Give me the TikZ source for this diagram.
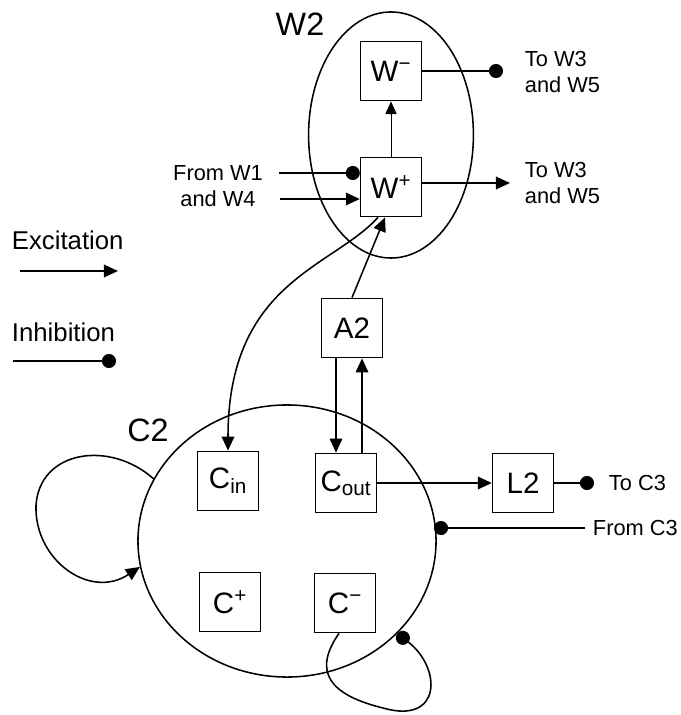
\documentclass[tikz,border=0pt]{standalone}
\usepackage{fontspec}
\setmainfont{Liberation Sans}
\usetikzlibrary{arrows.meta,positioning,calc,shapes.geometric}
\tikzset{
  cbox/.style={draw, line width=1.1pt, minimum width=1.52cm, minimum height=1.48cm, inner sep=0pt, font=\fontsize{21}{24}\selectfont},
  grp/.style={draw, ellipse, line width=1.1pt, inner sep=0pt},
  exc/.style={-{Triangle[length=10pt, width=9pt]}, line width=1.1pt},
  inh/.style={-{Circle[length=10pt]}, line width=1.1pt},
  slab/.style={font=\fontsize{15.5}{18}\selectfont, align=left},
  glab/.style={font=\fontsize{23}{26}\selectfont},
  leg/.style={font=\fontsize{18.3}{21}\selectfont, anchor=west},
}

\begin{document}
\begin{tikzpicture}[x=0.025cm, y=-0.025cm]
\useasboundingbox (0,0) rectangle (680,715);
% groups
\node[grp, minimum width=4.12cm, minimum height=6.15cm] (W2) at (391,135) {};
\node[grp, minimum width=7.45cm, minimum height=6.8cm] (C2) at (287,541) {};
\node[glab] (W2lab) at (300,24) {W2};
\node[glab] (C2lab) at (148,430) {C2};
% boxes
\node[cbox] (Wm) at (391,71) {W\textsuperscript{−}};
\node[cbox] (Wp) at (391,187) {W\textsuperscript{+}};
\node[cbox] (A2) at (352,328) {A2};
\node[cbox] (Cin) at (228,481) {C\textsubscript{in}};
\node[cbox] (Cout) at (346,483) {C\textsubscript{out}};
\node[cbox] (Cp) at (230,602) {C\textsuperscript{+}};
\node[cbox] (Cm) at (345,603) {C\textsuperscript{−}};
\node[cbox] (L2) at (523,483) {L2};
% outside labels
\node[slab, anchor=west] (toWm) at (520,72) {To W3\\and W5};
\node[slab, anchor=west] (toWp) at (520,183) {To W3\\and W5};
\node[slab, align=center] (fromW) at (218,186) {From W1\\and W4};
\node[slab, anchor=west] (toC3) at (604,483) {To C3};
\node[slab, anchor=west] (fromC3) at (588,528) {From C3};
% legend
\node[leg] (exlab) at (7,240) {Excitation};
\node[leg] (inlab) at (7,332) {Inhibition};
\coordinate (ex0) at (20,271);
\coordinate (ex1) at (118,271);
\coordinate (in0) at (13,361);
\coordinate (in1) at (116,361);
\draw[exc] (ex0) -- (ex1);
\draw[inh] (in0) -- (in1);
% W2
\coordinate (wmout) at (503,71);
\coordinate (wpout) at (510,183);
\coordinate (fw1) at (279,173);
\coordinate (fw4) at (280,199);
\draw[inh] (Wm) -- (wmout);
\draw[exc] (wpout -| Wp.east) -- (wpout);
\draw[-{Triangle[length=9pt, width=8pt]}, line width=0.6pt] (Wp) -- (Wm);
\draw[inh] (fw1) -- (fw1 -| Wp.west);
\draw[exc] (fw4) -- (fw4 -| Wp.west);
% between W2 and C2
\draw[exc] (A2.north) -- ($(Wp.south)+(-6,0)$);
\draw[exc] ($(Wp.south)+(-13,0)$) .. controls (332,268) and (228,282) .. (Cin.north);
\coordinate (a2l) at ($(A2.south)+(-16,0)$);
\coordinate (a2r) at ($(A2.south)+(10,0)$);
\draw[exc] (a2l) -- (a2l |- Cout.north);
\draw[exc] (a2r |- Cout.north) -- (a2r);
% C2
\coordinate (l2out) at (594,483);
\coordinate (fc3) at (585,528);
\draw[exc] (Cout) -- (L2);
\draw[inh] (L2) -- (l2out);
\draw[inh] (fc3) -- (434,528);
\draw[exc] (C2.155) .. controls (110,440) and (40,450) .. (36,505)
  .. controls (34,560) and (90,600) .. (C2.190);
\draw[inh] ($(Cm.south)+(-6,0)$) .. controls (312,672) and (330,695) .. (383,708)
  .. controls (442,725) and (442,668) .. (C2.-40);
\end{tikzpicture}
\end{document}
